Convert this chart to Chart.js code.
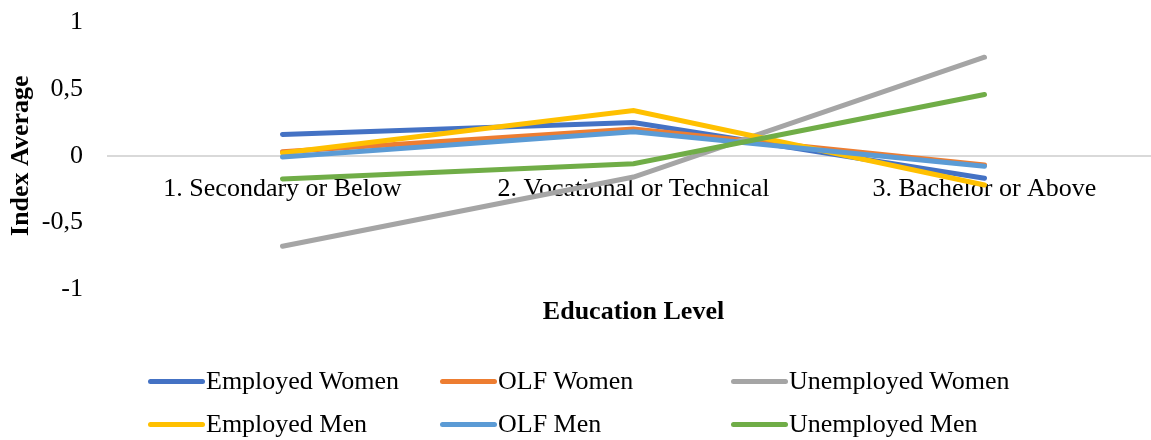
<!DOCTYPE html>
<html>
<head>
<meta charset="utf-8">
<script src="https://cdn.jsdelivr.net/npm/chart.js@4"></script>
<style>
  html, body { margin: 0; padding: 0; background: #fff; overflow: hidden; }
  #wrap { position: relative; width: 1160px; height: 440px; overflow: hidden; }
  #c { position: absolute; left: 0; top: -17px; }
  #legend { position: absolute; left: 0; top: 0; width: 1151px; height: 440px; pointer-events: none;
            font-family: "Liberation Serif", "Times New Roman", serif; font-size: 26px; color: #000; }
  .item { position: absolute; display: flex; align-items: center; white-space: nowrap; height: 30px; }
  .swatch { width: 57px; height: 5px; border-radius: 3px; margin-right: 1px; }
</style>
</head>
<body>
<div id="wrap">
  <canvas id="c" width="1160" height="457"></canvas>
  <div id="legend"></div>
</div>
<script>
const categories = ["1. Secondary or Below", "2. Vocational or Technical", "3. Bachelor or Above"];
const seriesNames = ["Employed Women", "OLF Women", "Unemployed Women", "Employed Men", "OLF Men", "Unemployed Men"];
const employedWomen   = [0.16, 0.25, -0.17];
const olfWomen        = [0.03, 0.20, -0.07];
const unemployedWomen = [-0.68, -0.16, 0.74];
const employedMen     = [0.02, 0.34, -0.22];
const olfMen          = [-0.01, 0.18, -0.08];
const unemployedMen   = [-0.175, -0.06, 0.46];
const seriesColors = ["#4472C4", "#ED7D31", "#A5A5A5", "#FFC000", "#5B9BD5", "#70AD47"];
const yTicks = [-1, -0.5, 0, 0.5, 1];
const yTitle = "Index Average";
const xTitle = "Education Level";

const seriesValues = [employedWomen, olfWomen, unemployedWomen, employedMen, olfMen, unemployedMen];
const FONT = '"Liberation Serif", "Times New Roman", serif';

const datasets = seriesNames.map((name, i) => ({
  label: name,
  data: seriesValues[i],
  borderColor: seriesColors[i],
  backgroundColor: seriesColors[i],
  borderWidth: 5,
  pointRadius: 0,
  tension: 0,
  borderCapStyle: 'round',
  borderJoinStyle: 'miter',
  order: seriesNames.length - i,
  clip: false
}));

new Chart(document.getElementById('c'), {
  type: 'line',
  data: { labels: categories, datasets },
  options: {
    responsive: false,
    animation: false,
    events: [],
    layout: { padding: { top: 0, right: 0, bottom: 108, left: 0 } },
    plugins: { legend: { display: false }, tooltip: { enabled: false } },
    scales: {
      x: {
        type: 'category',
        position: { y: 0 },
        offset: true,
        grid: { display: false },
        border: { display: false },
        ticks: { color: '#000', font: { family: FONT, size: 26 }, padding: 10, maxRotation: 0, autoSkip: false }
      },
      x2: {
        type: 'category',
        labels: categories,
        position: 'bottom',
        offset: true,
        grid: { display: false, drawTicks: false, tickLength: 0 },
        border: { display: false },
        ticks: { display: false },
        title: { display: true, text: xTitle, color: '#000', font: { family: FONT, size: 26, weight: 'bold' }, padding: { top: 8, bottom: 4 } }
      },
      y: {
        min: -1, max: 1,
        afterBuildTicks: (s) => { s.ticks = yTicks.map(v => ({ value: v })); },
        afterFit: (s) => { s.width = 107; },
        grid: {
          drawTicks: false,
          color: (ctx) => (ctx.tick && ctx.tick.value === 0) ? '#d9d9d9' : 'rgba(0,0,0,0)',
          lineWidth: 2
        },
        border: { display: false },
        ticks: {
          color: '#000', font: { family: FONT, size: 26 }, padding: 24,
          callback: (v) => String(v).replace('.', ',')
        },
        title: { display: true, text: yTitle, color: '#000', font: { family: FONT, size: 26, weight: 'bold' }, padding: { top: 6, bottom: 0 } }
      }
    }
  }
});

// Legend built from the series arrays
const legend = document.getElementById('legend');
const colX = [148, 440, 731];
const rowY = [381, 424];
seriesNames.forEach((name, i) => {
  const item = document.createElement('div');
  item.className = 'item';
  item.style.left = colX[i % 3] + 'px';
  item.style.top = (rowY[Math.floor(i / 3)] - 15) + 'px';
  const sw = document.createElement('span');
  sw.className = 'swatch';
  sw.style.background = seriesColors[i];
  const tx = document.createElement('span');
  tx.textContent = name;
  item.appendChild(sw);
  item.appendChild(tx);
  legend.appendChild(item);
});
</script>
</body>
</html>
